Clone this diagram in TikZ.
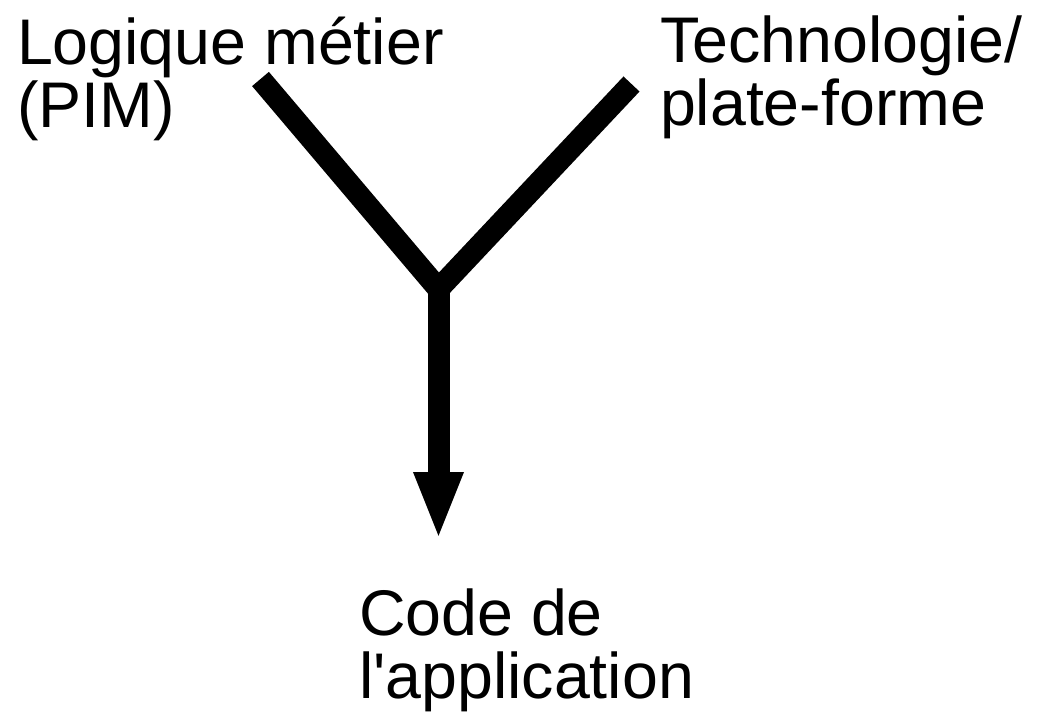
\documentclass[tikz,border=0pt]{standalone}
\usepackage{fontspec}
\setmainfont{Liberation Sans}[Ligatures=TeXOff]
\usetikzlibrary{arrows.meta}
\tikzset{
  lbl/.style={inner sep=0pt, outer sep=0pt, align=left, anchor=base west,
    font=\fontsize{64.5pt}{63pt}\selectfont},
  thick stroke/.style={line width=22pt, line cap=butt, draw=black}
}
\begin{document}
\begin{tikzpicture}[x=1pt,y=-1pt]
\useasboundingbox (0,0) rectangle (1047,718);
\node[lbl] (pim) at (17,127) {Logique métier\\(PIM)};
\node[lbl] (tech) at (660,125) {Technologie/\\plate-forme};
\node[lbl] (code) at (359,698) {Code de\\l'application};
\coordinate (lend) at (260.5,79);
\coordinate (rend) at (631.5,84);
\coordinate (junc) at (438.5,289);
\coordinate (tip) at (438.5,540);
\draw[thick stroke] (lend) -- (junc);
\draw[thick stroke] (rend) -- (junc);
\draw[thick stroke, -{Triangle[length=68pt,width=45pt]}] (junc) -- (tip);
\end{tikzpicture}
\end{document}
